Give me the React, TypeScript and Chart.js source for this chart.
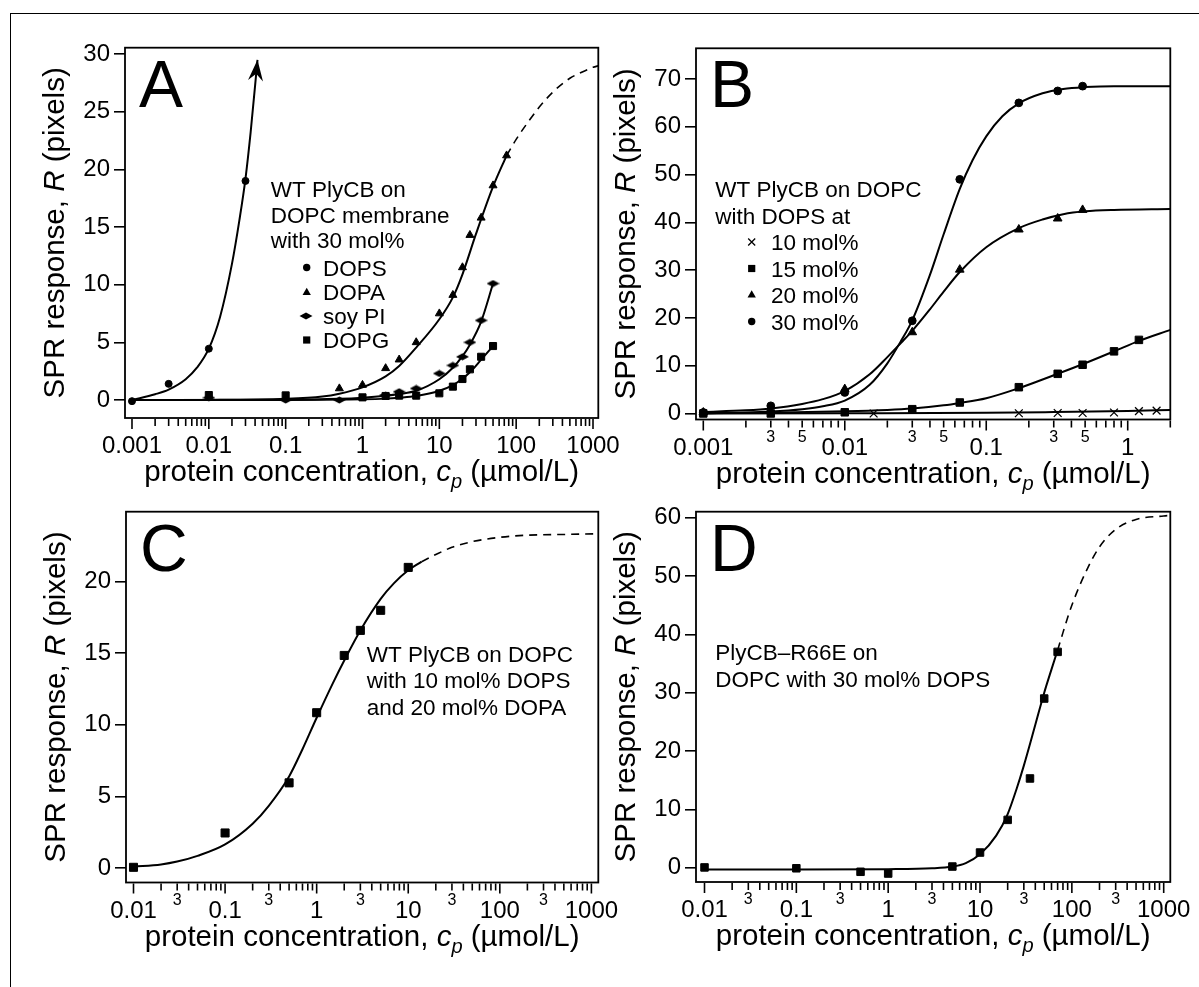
import React, { useEffect, useRef } from "react";
import { Chart, registerables } from "chart.js";
Chart.register(...registerables);

const FONT = "'Liberation Sans', Arial, Helvetica, sans-serif";
const W = 1199;
const H = 987;

// ---------------- Panel A ----------------
const A_X_TICKS = [0.001, 0.01, 0.1, 1, 10, 100, 1000];
const A_X_LABELS = ["0.001", "0.01", "0.1", "1", "10", "100", "1000"];
const A_Y_TICKS = [0, 5, 10, 15, 20, 25, 30];

const A_DOPS_X = [0.001, 0.003, 0.01, 0.03];
const A_DOPS_Y = [-0.1, 1.4, 4.45, 19.0];
const A_DOPA_X = [0.5, 1, 2, 3, 5, 10, 15, 20, 25, 35, 50, 75];
const A_DOPA_Y = [1.0, 1.3, 2.75, 3.5, 5.0, 7.5, 9.1, 11.5, 14.3, 15.8, 18.6, 21.2];
const A_SOYPI_X = [0.01, 0.1, 0.5, 2, 3, 5, 10, 15, 20, 25, 35, 50];
const A_SOYPI_Y = [0.2, 0, 0, 0.43, 0.72, 1.0, 2.3, 3.0, 3.75, 5.0, 6.9, 10.1];
const A_DOPG_X = [0.01, 0.1, 1, 2, 3, 5, 10, 15, 20, 25, 35, 50];
const A_DOPG_Y = [0.43, 0.4, 0.23, 0.35, 0.38, 0.38, 0.58, 1.16, 1.82, 2.66, 3.75, 4.68];

const A_DOPS_FIT_X = [0.001, 0.002, 0.003, 0.005, 0.007, 0.01, 0.014, 0.02, 0.025, 0.03, 0.035, 0.043];
const A_DOPS_FIT_Y = [0, 0.5, 0.9, 1.8, 2.8, 4.45, 7.2, 11.8, 15.6, 19.2, 23.2, 29.5];
const A_DOPA_FIT_X = [0.001, 0.01, 0.1, 0.3, 0.5, 1, 2, 3, 5, 10, 15, 20, 30, 50, 75];
const A_DOPA_FIT_Y = [0, 0.01, 0.1, 0.3, 0.55, 1.1, 2.05, 2.95, 4.55, 7.0, 8.9, 10.9, 14.4, 18.5, 21.2];
const A_DOPA_EXT_X = [75, 100, 150, 200, 300, 500, 700, 1000, 1200];
const A_DOPA_EXT_Y = [21.2, 22.6, 24.3, 25.4, 26.7, 27.9, 28.4, 28.85, 29.0];
const A_SOYPI_FIT_X = [0.001, 0.1, 0.5, 1, 2, 3, 5, 10, 15, 20, 25, 35, 50];
const A_SOYPI_FIT_Y = [0, 0.02, 0.1, 0.2, 0.37, 0.52, 0.8, 1.8, 2.8, 3.8, 4.8, 6.8, 10.1];
const A_DOPG_FIT_X = [0.001, 0.1, 1, 2, 3, 5, 10, 15, 20, 25, 35, 50];
const A_DOPG_FIT_Y = [0, 0.01, 0.06, 0.12, 0.2, 0.35, 0.8, 1.3, 1.85, 2.4, 3.5, 4.68];

// ---------------- Panel B ----------------
const B_X_TICKS = [0.001, 0.01, 0.1, 1];
const B_X_LABELS = ["0.001", "0.01", "0.1", "1"];
const B_MINOR_LABELS = [3, 5];
const B_Y_TICKS = [0, 10, 20, 30, 40, 50, 60, 70];

const B_30_X = [0.001, 0.003, 0.01, 0.03, 0.065, 0.17, 0.32, 0.48];
const B_30_Y = [0.2, 1.6, 4.4, 19.4, 49.0, 65.0, 67.5, 68.5];
const B_20_X = [0.001, 0.01, 0.03, 0.065, 0.17, 0.32, 0.48];
const B_20_Y = [0.2, 5.1, 17.0, 30.1, 38.5, 40.8, 42.6];
const B_15_X = [0.001, 0.003, 0.01, 0.03, 0.065, 0.17, 0.32, 0.48, 0.8, 1.2];
const B_15_Y = [0, 0, 0.25, 0.9, 2.3, 5.5, 8.3, 10.2, 13.0, 15.4];
const B_10_X = [0.016, 0.17, 0.32, 0.48, 0.8, 1.2, 1.6];
const B_10_Y = [0, 0.05, 0.1, 0.1, 0.2, 0.5, 0.6];

const B_30_FIT_X = [0.001, 0.002, 0.003, 0.005, 0.007, 0.01, 0.015, 0.02, 0.025, 0.03, 0.04, 0.05, 0.065, 0.08, 0.1, 0.13, 0.17, 0.25, 0.35, 0.5, 0.8, 2];
const B_30_FIT_Y = [0.05, 0.2, 0.4, 0.9, 1.5, 2.7, 6.0, 10.5, 15.2, 19.5, 29, 37.5, 47, 53, 58, 62.2, 64.9, 67, 67.9, 68.3, 68.5, 68.5];
const B_20_FIT_X = [0.001, 0.002, 0.003, 0.005, 0.007, 0.01, 0.015, 0.02, 0.025, 0.03, 0.04, 0.05, 0.065, 0.1, 0.17, 0.25, 0.35, 0.5, 0.8, 2];
const B_20_FIT_Y = [0.3, 0.65, 1.05, 2.0, 3.0, 4.7, 8.2, 11.8, 14.8, 17.3, 21.8, 25.5, 29.6, 34.8, 38.8, 40.6, 41.7, 42.3, 42.6, 42.8];
const B_15_FIT_X = [0.001, 0.003, 0.01, 0.02, 0.03, 0.05, 0.065, 0.1, 0.17, 0.3, 0.48, 0.8, 1.2, 2];
const B_15_FIT_Y = [0.05, 0.15, 0.45, 0.75, 1.05, 1.7, 2.2, 3.2, 5.3, 8.0, 10.3, 13.0, 15.2, 17.5];
const B_10_FIT_X = [0.001, 0.01, 0.1, 0.3, 1, 2];
const B_10_FIT_Y = [0, 0.05, 0.15, 0.3, 0.5, 0.75];

// ---------------- Panel C ----------------
const C_X_TICKS = [0.01, 0.1, 1, 10, 100, 1000];
const C_X_LABELS = ["0.01", "0.1", "1", "10", "100", "1000"];
const C_MINOR_LABELS = [3];
const C_Y_TICKS = [0, 5, 10, 15, 20];

const C_X = [0.01, 0.1, 0.5, 1, 2, 3, 5, 10];
const C_Y = [0.05, 2.45, 5.95, 10.85, 14.85, 16.6, 18.0, 21.0];
const C_FIT_X = [0.01, 0.02, 0.03, 0.05, 0.1, 0.2, 0.3, 0.5, 0.7, 1, 1.5, 2, 3, 5, 7, 10, 14];
const C_FIT_Y = [0.1, 0.25, 0.45, 0.85, 1.65, 3.1, 4.35, 6.4, 8.3, 10.5, 12.9, 14.5, 16.6, 18.8, 19.9, 20.8, 21.4];
const C_EXT_X = [14, 20, 30, 50, 100, 200, 500, 1200];
const C_EXT_Y = [21.4, 21.9, 22.4, 22.8, 23.1, 23.25, 23.3, 23.35];

// ---------------- Panel D ----------------
const D_X_TICKS = [0.01, 0.1, 1, 10, 100, 1000];
const D_X_LABELS = ["0.01", "0.1", "1", "10", "100", "1000"];
const D_MINOR_LABELS = [3];
const D_Y_TICKS = [0, 10, 20, 30, 40, 50, 60];

const D_X = [0.01, 0.1, 0.5, 1, 5, 10, 20, 35, 50, 70];
const D_Y = [0.05, -0.1, -0.7, -1.0, 0.2, 2.6, 8.2, 15.3, 29.0, 37.0];
const D_FIT_X = [0.01, 0.1, 1, 3, 5, 7, 10, 15, 20, 25, 30, 40, 50, 60, 70];
const D_FIT_Y = [-0.3, -0.3, -0.25, -0.1, 0.2, 0.8, 2.3, 5.5, 9.2, 13.5, 17.5, 24.5, 30, 34, 37.3];
const D_EXT_X = [70, 80, 100, 150, 200, 300, 500, 1000, 1200];
const D_EXT_Y = [37.3, 40.3, 45, 51.5, 55, 58, 59.7, 60.3, 60.4];

// ---------------- helpers ----------------
const pts = (xs: number[], ys: number[]) => xs.map((x, i) => ({ x, y: ys[i] }));

const marker = (xs: number[], ys: number[], style: any, radius: number, extra: any = {}) => ({
  data: pts(xs, ys),
  showLine: false,
  pointStyle: style,
  pointRadius: radius,
  pointBackgroundColor: "#000",
  pointBorderColor: "#000",
  pointBorderWidth: 1,
  order: 0,
  ...extra,
});

const curve = (xs: number[], ys: number[], dashed = false, extra: any = {}) => ({
  data: pts(xs, ys),
  showLine: true,
  pointRadius: 0,
  borderColor: "#000",
  borderWidth: dashed ? 1.6 : 2,
  borderDash: dashed ? [8, 6] : [],
  cubicInterpolationMode: "monotone",
  fill: false,
  order: 1,
  ...extra,
});

function makeDiamond(): HTMLCanvasElement {
  const c = document.createElement("canvas");
  c.width = 13;
  c.height = 8;
  const g = c.getContext("2d")!;
  g.fillStyle = "#000";
  g.beginPath();
  g.moveTo(0, 4);
  g.lineTo(6.5, 0.6);
  g.lineTo(13, 4);
  g.lineTo(6.5, 7.4);
  g.closePath();
  g.fill();
  return c;
}

type Note = { t: string; x: number; y: number };
type Mark = { s: string; x: number; y: number };
type PanelCfg = {
  area: { l: number; t: number; r: number; b: number };
  xMin: number;
  xMax: number;
  yMin: number;
  yMax: number;
  xTicks: number[];
  xLabels: string[];
  minorLabels: number[];
  yTicks: number[];
  letter: string;
  notes: Note[];
  marks: Mark[];
  datasets: any[];
};

const YW = 60;
const XH = 70;
const TICK_FONT = 24;
const TITLE_FONT = 29.5;
const NOTE_FONT = 22.5;

function drawMark(ctx: CanvasRenderingContext2D, s: string, x: number, y: number) {
  ctx.save();
  ctx.fillStyle = "#000";
  ctx.strokeStyle = "#000";
  ctx.beginPath();
  if (s === "circle") {
    ctx.arc(x, y, 3.7, 0, Math.PI * 2);
    ctx.fill();
  } else if (s === "triangle") {
    const r = 4.8;
    ctx.moveTo(x, y - r);
    ctx.lineTo(x + r * 0.866, y + r * 0.5);
    ctx.lineTo(x - r * 0.866, y + r * 0.5);
    ctx.closePath();
    ctx.fill();
  } else if (s === "rect") {
    ctx.rect(x - 3.6, y - 3.6, 7.2, 7.2);
    ctx.fill();
  } else if (s === "diamond") {
    ctx.moveTo(x - 6.5, y);
    ctx.lineTo(x, y - 3.4);
    ctx.lineTo(x + 6.5, y);
    ctx.lineTo(x, y + 3.4);
    ctx.closePath();
    ctx.fill();
  } else if (s === "cross") {
    ctx.lineWidth = 1.3;
    ctx.moveTo(x - 3.5, y - 3.5);
    ctx.lineTo(x + 3.5, y + 3.5);
    ctx.moveTo(x + 3.5, y - 3.5);
    ctx.lineTo(x - 3.5, y + 3.5);
    ctx.stroke();
  }
  ctx.restore();
}

function drawPieces(ctx: CanvasRenderingContext2D, pieces: { t: string; f: string; dy: number }[], cx: number, baseline: number) {
  let total = 0;
  for (const p of pieces) {
    ctx.font = p.f;
    total += ctx.measureText(p.t).width;
  }
  let x = cx - total / 2;
  ctx.textAlign = "left";
  ctx.textBaseline = "alphabetic";
  for (const p of pieces) {
    ctx.font = p.f;
    ctx.fillText(p.t, x, baseline + p.dy);
    x += ctx.measureText(p.t).width;
  }
}

function decorPlugin(cfg: PanelCfg) {
  return {
    id: "decor",
    afterDraw(chart: any) {
      const ctx: CanvasRenderingContext2D = chart.ctx;
      const { left, top, right, bottom } = chart.chartArea;
      const xs = chart.scales.x;
      ctx.save();
      ctx.strokeStyle = "#000";
      ctx.fillStyle = "#000";
      ctx.lineWidth = 1.8;
      ctx.strokeRect(left, top, right - left, bottom - top);

      // x-axis tick marks (decades and 2..9 subdivisions)
      const first = cfg.xTicks[0];
      const d0 = Math.round(Math.log10(first));
      ctx.lineWidth = 1.6;
      for (let d = d0; d <= d0 + 8; d++) {
        for (let k = 1; k <= 9; k++) {
          const v = Number((k * Math.pow(10, d)).toPrecision(6));
          if (v < first * 0.999 || v > cfg.xMax * 1.001) continue;
          const px = xs.getPixelForValue(v);
          const len = k === 1 ? 10 : 7;
          ctx.beginPath();
          ctx.moveTo(px, bottom + 1);
          ctx.lineTo(px, bottom + 1 + len);
          ctx.stroke();
          if (cfg.minorLabels.includes(k)) {
            ctx.font = `16px ${FONT}`;
            ctx.textAlign = "center";
            ctx.textBaseline = "middle";
            ctx.fillText(String(k), px, bottom + 18);
          }
        }
      }

      // x title
      drawPieces(
        ctx,
        [
          { t: "protein concentration, ", f: `${TITLE_FONT}px ${FONT}`, dy: 0 },
          { t: "c", f: `italic ${TITLE_FONT}px ${FONT}`, dy: 0 },
          { t: "p", f: `italic ${TITLE_FONT * 0.68}px ${FONT}`, dy: 7 },
          { t: " (µmol/L)", f: `${TITLE_FONT}px ${FONT}`, dy: 0 },
        ],
        (left + right) / 2,
        bottom + 63
      );

      // y title
      ctx.save();
      ctx.translate(left - 61, (top + bottom) / 2);
      ctx.rotate(-Math.PI / 2);
      drawPieces(
        ctx,
        [
          { t: "SPR response, ", f: `${TITLE_FONT}px ${FONT}`, dy: 0 },
          { t: "R", f: `italic ${TITLE_FONT}px ${FONT}`, dy: 0 },
          { t: " (pixels)", f: `${TITLE_FONT}px ${FONT}`, dy: 0 },
        ],
        0,
        0
      );
      ctx.restore();

      // panel letter
      ctx.font = `66px ${FONT}`;
      ctx.textAlign = "left";
      ctx.textBaseline = "alphabetic";
      ctx.fillText(cfg.letter, left + 14, top + 59);

      // annotation text
      ctx.font = `${NOTE_FONT}px ${FONT}`;
      for (const n of cfg.notes) ctx.fillText(n.t, n.x, n.y);
      for (const m of cfg.marks) drawMark(ctx, m.s, m.x, m.y);

      // arrow heads
      chart.data.datasets.forEach((ds: any, i: number) => {
        if (!ds.arrow) return;
        const meta = chart.getDatasetMeta(i);
        const n = meta.data.length;
        const tip = meta.data[n - 1];
        const prev = meta.data[n - 2];
        const ang = Math.atan2(tip.y - prev.y, tip.x - prev.x);
        ctx.save();
        ctx.translate(tip.x, tip.y);
        ctx.rotate(ang);
        ctx.beginPath();
        ctx.moveTo(0, 0);
        ctx.lineTo(-21, -7.5);
        ctx.lineTo(-14, 0);
        ctx.lineTo(-21, 7.5);
        ctx.closePath();
        ctx.fill();
        ctx.restore();
      });
      ctx.restore();
    },
  };
}

function buildChart(canvas: HTMLCanvasElement, cfg: PanelCfg) {
  const a = cfg.area;
  return new Chart(canvas, {
    type: "scatter",
    data: { datasets: cfg.datasets },
    options: {
      responsive: false,
      animation: false,
      devicePixelRatio: 1,
      events: [],
      layout: {
        padding: { left: a.l - YW, top: a.t, right: W - a.r, bottom: H - a.b - XH },
      },
      plugins: { legend: { display: false }, tooltip: { enabled: false } },
      scales: {
        x: {
          type: "logarithmic",
          position: "bottom",
          min: cfg.xMin,
          max: cfg.xMax,
          grid: { display: false, drawTicks: false },
          border: { display: false },
          ticks: {
            autoSkip: false,
            maxRotation: 0,
            minRotation: 0,
            padding: 14,
            color: "#000",
            font: { family: FONT, size: TICK_FONT },
            callback: (_v: any, i: number) => cfg.xLabels[i],
          },
          afterBuildTicks: (s: any) => {
            s.ticks = cfg.xTicks.map((v) => ({ value: v }));
          },
          afterFit: (s: any) => {
            s.height = XH;
            s.paddingLeft = 0;
            s.paddingRight = 0;
            s.paddingTop = 0;
            s.paddingBottom = 0;
          },
        },
        y: {
          type: "linear",
          min: cfg.yMin,
          max: cfg.yMax,
          grid: { display: true, drawOnChartArea: false, drawTicks: true, tickLength: 11, color: "#000", lineWidth: 1.6 },
          border: { display: false },
          ticks: {
            padding: 4,
            color: "#000",
            font: { family: FONT, size: TICK_FONT },
            callback: (v: any) => String(v),
          },
          afterBuildTicks: (s: any) => {
            s.ticks = cfg.yTicks.map((v) => ({ value: v }));
          },
          afterFit: (s: any) => {
            s.width = YW;
            s.paddingTop = 0;
            s.paddingBottom = 0;
          },
        },
      },
    } as any,
    plugins: [decorPlugin(cfg) as any],
  });
}

function makeConfigs(): PanelCfg[] {
  const diamond = makeDiamond();
  const A: PanelCfg = {
    area: { l: 125, t: 47.7, r: 598.3, b: 418 },
    xMin: 8.11e-4,
    xMax: 1172,
    yMin: -1.56,
    yMax: 30.55,
    xTicks: A_X_TICKS,
    xLabels: A_X_LABELS,
    minorLabels: [],
    yTicks: A_Y_TICKS,
    letter: "A",
    notes: [
      { t: "WT PlyCB on", x: 270.7, y: 197 },
      { t: "DOPC membrane", x: 270.7, y: 222.5 },
      { t: "with 30 mol%", x: 270.7, y: 248 },
      { t: "DOPS", x: 323, y: 275.5 },
      { t: "DOPA", x: 323, y: 300 },
      { t: "soy PI", x: 323, y: 324 },
      { t: "DOPG", x: 323, y: 348 },
    ],
    marks: [
      { s: "circle", x: 306.7, y: 267.5 },
      { s: "triangle", x: 306.7, y: 292.5 },
      { s: "diamond", x: 306, y: 316 },
      { s: "rect", x: 306.7, y: 340 },
    ],
    datasets: [
      curve(A_DOPS_FIT_X, A_DOPS_FIT_Y, false, { arrow: true }),
      curve(A_DOPA_FIT_X, A_DOPA_FIT_Y),
      curve(A_DOPA_EXT_X, A_DOPA_EXT_Y, true),
      curve(A_SOYPI_FIT_X, A_SOYPI_FIT_Y),
      curve(A_DOPG_FIT_X, A_DOPG_FIT_Y),
      marker(A_DOPG_X, A_DOPG_Y, "rect", 5),
      marker(A_SOYPI_X, A_SOYPI_Y, diamond, 5),
      marker(A_DOPA_X, A_DOPA_Y, "triangle", 4.6),
      marker(A_DOPS_X, A_DOPS_Y, "circle", 3.5),
    ],
  };
  const B: PanelCfg = {
    area: { l: 696, t: 48.3, r: 1170.3, b: 419.5 },
    xMin: 8.88e-4,
    xMax: 2.0,
    yMin: -1.26,
    yMax: 76.42,
    xTicks: B_X_TICKS,
    xLabels: B_X_LABELS,
    minorLabels: B_MINOR_LABELS,
    yTicks: B_Y_TICKS,
    letter: "B",
    notes: [
      { t: "WT PlyCB on DOPC", x: 715.2, y: 197 },
      { t: "with DOPS at", x: 715.2, y: 223.5 },
      { t: "10 mol%", x: 770.9, y: 250 },
      { t: "15 mol%", x: 770.9, y: 276.5 },
      { t: "20 mol%", x: 770.9, y: 303 },
      { t: "30 mol%", x: 770.9, y: 329.5 },
    ],
    marks: [
      { s: "cross", x: 751.7, y: 242 },
      { s: "rect", x: 751.7, y: 268.5 },
      { s: "triangle", x: 751.7, y: 295 },
      { s: "circle", x: 751.7, y: 321.5 },
    ],
    datasets: [
      curve(B_30_FIT_X, B_30_FIT_Y),
      curve(B_20_FIT_X, B_20_FIT_Y),
      curve(B_15_FIT_X, B_15_FIT_Y),
      curve(B_10_FIT_X, B_10_FIT_Y),
      marker(B_10_X, B_10_Y, "crossRot", 5.5, { pointBorderWidth: 1.3 }),
      marker(B_15_X, B_15_Y, "rect", 5.3),
      marker(B_20_X, B_20_Y, "triangle", 5),
      marker(B_30_X, B_30_Y, "circle", 3.9),
    ],
  };
  const C: PanelCfg = {
    area: { l: 126, t: 511.7, r: 598.3, b: 882.5 },
    xMin: Math.pow(10, -2.0819),
    xMax: Math.pow(10, 3.0753),
    yMin: -1.01,
    yMax: 24.89,
    xTicks: C_X_TICKS,
    xLabels: C_X_LABELS,
    minorLabels: C_MINOR_LABELS,
    yTicks: C_Y_TICKS,
    letter: "C",
    notes: [
      { t: "WT PlyCB on DOPC", x: 366.7, y: 661.7 },
      { t: "with 10 mol% DOPS", x: 366.7, y: 688.3 },
      { t: "and 20 mol% DOPA", x: 366.7, y: 715 },
    ],
    marks: [],
    datasets: [
      curve(C_FIT_X, C_FIT_Y),
      curve(C_EXT_X, C_EXT_Y, true),
      marker(C_X, C_Y, "rect", 5.7),
    ],
  };
  const D: PanelCfg = {
    area: { l: 696, t: 511.7, r: 1170.3, b: 882 },
    xMin: Math.pow(10, -2.0926),
    xMax: Math.pow(10, 3.0719),
    yMin: -2.45,
    yMax: 61.03,
    xTicks: D_X_TICKS,
    xLabels: D_X_LABELS,
    minorLabels: D_MINOR_LABELS,
    yTicks: D_Y_TICKS,
    letter: "D",
    notes: [
      { t: "PlyCB–R66E on", x: 715.2, y: 660 },
      { t: "DOPC with 30 mol% DOPS", x: 715.2, y: 687.3 },
    ],
    marks: [],
    datasets: [
      curve(D_FIT_X, D_FIT_Y),
      curve(D_EXT_X, D_EXT_Y, true),
      marker(D_X, D_Y, "rect", 5.3),
    ],
  };
  return [A, B, C, D];
}

export default function App() {
  const r0 = useRef<HTMLCanvasElement>(null);
  const r1 = useRef<HTMLCanvasElement>(null);
  const r2 = useRef<HTMLCanvasElement>(null);
  const r3 = useRef<HTMLCanvasElement>(null);

  useEffect(() => {
    const cfgs = makeConfigs();
    const refs = [r0, r1, r2, r3];
    const charts = cfgs.map((c, i) => buildChart(refs[i].current!, c));
    return () => charts.forEach((c) => c.destroy());
  }, []);

  const cv: React.CSSProperties = { position: "absolute", left: 0, top: 0, width: W, height: H };
  return (
    <div style={{ position: "absolute", left: 0, top: 0, width: W, height: H, background: "#fff", overflow: "hidden" }}>
      <div
        style={{
          position: "absolute",
          left: 10,
          top: 13,
          width: W,
          height: H,
          borderTop: "1.5px solid #000",
          borderLeft: "1.5px solid #000",
        }}
      />
      <canvas ref={r0} width={W} height={H} style={cv} />
      <canvas ref={r1} width={W} height={H} style={cv} />
      <canvas ref={r2} width={W} height={H} style={cv} />
      <canvas ref={r3} width={W} height={H} style={cv} />
    </div>
  );
}
